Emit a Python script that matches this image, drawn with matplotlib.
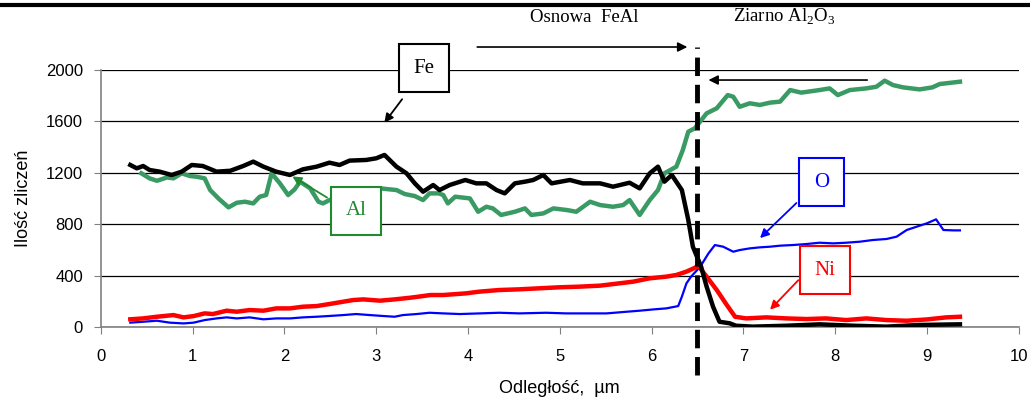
import matplotlib.pyplot as plt
from matplotlib.lines import Line2D

# Fe (black)
fe_x = [0.32, 0.39, 0.46, 0.53, 0.64, 0.77, 0.88, 0.99, 1.11, 1.26, 1.41, 1.55, 1.66, 1.77,
        1.91, 2.06, 2.20, 2.35, 2.49, 2.60, 2.71, 2.89, 3.00, 3.09, 3.22, 3.33, 3.42, 3.51,
        3.62, 3.69, 3.80, 3.97, 4.09, 4.20, 4.31, 4.40, 4.51, 4.62, 4.71, 4.82, 4.91, 5.11,
        5.25, 5.44, 5.58, 5.76, 5.87, 5.98, 6.07, 6.14, 6.22, 6.33, 6.40, 6.45, 6.54, 6.60,
        6.67, 6.74, 6.85, 6.92, 7.10, 7.47, 7.83, 8.20, 8.56, 8.92, 9.36]
fe_y = [1261, 1235, 1253, 1222, 1209, 1183, 1209, 1261, 1253, 1209, 1216, 1253, 1287, 1248,
        1209, 1183, 1227, 1248, 1279, 1261, 1295, 1300, 1313, 1339, 1248, 1196, 1118, 1053,
        1105, 1066, 1105, 1144, 1118, 1118, 1066, 1040, 1118, 1131, 1144, 1183, 1118, 1144,
        1118, 1118, 1092, 1123, 1079, 1196, 1248, 1131, 1183, 1066, 833, 625, 469, 314,
        158, 41, 29, 10, 3, 10, 21, 10, 3, 16, 21]

# Al (green)
al_x = [0.44, 0.53, 0.61, 0.72, 0.79, 0.88, 0.97, 1.04, 1.13, 1.19, 1.28, 1.39, 1.48, 1.57,
        1.66, 1.73, 1.80, 1.86, 1.95, 2.04, 2.11, 2.17, 2.28, 2.37, 2.42, 2.49, 2.70, 2.90,
        3.04, 3.15, 3.22, 3.31, 3.42, 3.51, 3.58, 3.68, 3.73, 3.78, 3.86, 4.02, 4.11, 4.20,
        4.27, 4.36, 4.51, 4.62, 4.69, 4.82, 4.93, 5.08, 5.18, 5.33, 5.44, 5.58, 5.69, 5.76,
        5.87, 5.98, 6.07, 6.14, 6.27, 6.34, 6.40, 6.47, 6.60, 6.71, 6.83, 6.89, 6.96, 7.07,
        7.18, 7.29, 7.40, 7.51, 7.63, 7.83, 7.94, 8.03, 8.16, 8.34, 8.45, 8.54, 8.63, 8.74,
        8.92, 9.06, 9.14, 9.36]
al_y = [1196, 1157, 1138, 1164, 1157, 1196, 1175, 1170, 1157, 1066, 1001, 931, 967, 975,
        962, 1014, 1027, 1196, 1118, 1027, 1071, 1131, 1079, 975, 962, 988, 1030, 1060,
        1079, 1071, 1066, 1035, 1019, 988, 1040, 1040, 1027, 962, 1014, 1001, 897, 936,
        923, 872, 897, 923, 872, 884, 923, 910, 897, 975, 949, 936, 949, 988,
        872, 988, 1066, 1196, 1248, 1377, 1520, 1546, 1663, 1702, 1805, 1792, 1714, 1741,
        1728, 1746, 1754, 1844, 1824, 1844, 1857, 1805, 1844, 1857, 1870, 1917, 1883, 1865,
        1849, 1865, 1891, 1909]

# Ni (red)
ni_x = [0.32, 0.46, 0.61, 0.79, 0.90, 1.01, 1.13, 1.22, 1.37, 1.48, 1.62, 1.77, 1.91, 2.06,
        2.20, 2.35, 2.49, 2.64, 2.75, 2.86, 3.04, 3.20, 3.37, 3.48, 3.59, 3.73, 3.98, 4.12,
        4.34, 4.55, 4.77, 4.99, 5.21, 5.44, 5.65, 5.80, 5.98, 6.16, 6.27, 6.38, 6.46, 6.51,
        6.60, 6.71, 6.82, 6.91, 7.03, 7.25, 7.47, 7.69, 7.90, 8.12, 8.34, 8.56, 8.78, 9.00,
        9.21, 9.36]
ni_y = [60, 67, 80, 93, 75, 85, 106, 101, 127, 119, 132, 127, 145, 145,
        158, 163, 179, 197, 210, 215, 205, 215, 228, 238, 249, 249, 262, 275,
        288, 293, 301, 309, 314, 322, 340, 353, 379, 392, 405, 431, 457, 475,
        392, 288, 171, 80, 67, 75, 67, 62, 67, 54, 67, 54, 49, 59,
        75, 80]

# O (blue)
o_x = [0.32, 0.46, 0.61, 0.75, 0.90, 1.01, 1.13, 1.26, 1.37, 1.48, 1.62, 1.77, 1.91, 2.06,
       2.20, 2.35, 2.49, 2.64, 2.78, 2.93, 3.07, 3.20, 3.29, 3.44, 3.58, 3.73, 3.91, 4.13,
       4.34, 4.56, 4.85, 5.07, 5.29, 5.51, 5.73, 5.87, 6.02, 6.16, 6.29, 6.33, 6.38, 6.43,
       6.53, 6.62, 6.69, 6.78, 6.89, 6.96, 7.07, 7.18, 7.29, 7.40, 7.54, 7.69, 7.83, 7.98,
       8.12, 8.27, 8.41, 8.56, 8.67, 8.78, 8.89, 9.00, 9.10, 9.18, 9.29, 9.36]
o_y = [34, 41, 49, 34, 28, 34, 54, 67, 75, 67, 75, 60, 67, 67,
       75, 80, 86, 93, 101, 93, 86, 80, 93, 101, 111, 106, 101, 106,
       111, 106, 111, 106, 106, 106, 119, 127, 137, 145, 163, 236, 340, 392,
       469, 573, 638, 625, 586, 599, 612, 620, 625, 633, 638, 646, 656, 651,
       656, 664, 677, 685, 703, 755, 781, 807, 838, 755, 752, 752]

green = '#3a9a64'
serif = 'Liberation Serif'

plt.rcParams['font.family'] = ['Liberation Sans', 'DejaVu Sans']
plt.rcParams['mathtext.fontset'] = 'custom'
plt.rcParams['mathtext.rm'] = serif

fig = plt.figure(figsize=(10.3, 4.01), dpi=100)
ax = fig.add_axes([0.098, 0.1845, 0.891, 0.6409])

ax.plot(o_x, o_y, color='#0000ff', lw=1.6, zorder=3)
ax.plot(ni_x, ni_y, color='#ff0000', lw=3.2, zorder=3)
ax.plot(al_x, al_y, color=green, lw=3.2, zorder=4)
ax.plot(fe_x, fe_y, color='black', lw=3.2, zorder=5)

ax.set_xlim(0, 10)
ax.set_ylim(0, 2000)
ax.set_xticks(range(0, 11))
ax.set_yticks(range(0, 2001, 400))
ax.grid(axis='y', color='black', lw=0.9)
ax.set_axisbelow(True)
for s in ['top', 'right']:
    ax.spines[s].set_visible(False)
for s in ['left', 'bottom']:
    ax.spines[s].set_color('#808080')
    ax.spines[s].set_linewidth(1.2)
ax.tick_params(direction='out', length=5, color='#808080', labelsize=12)
ax.tick_params(axis='x', pad=11)
ax.tick_params(axis='y', pad=8)
ax.set_xlabel('Odległość,  µm', fontsize=13, labelpad=11)
ax.set_ylabel('Ilość zliczeń', fontsize=13, labelpad=10)

# interface line
ax.plot([6.49, 6.49], [-370, 2180], color='black', lw=3.5, ls=(0, (3.8, 1.8)),
        clip_on=False, zorder=6)

# region arrows and labels
ax.annotate('', xy=(6.42, 2179), xytext=(4.07, 2179),
            arrowprops=dict(arrowstyle='-|>', color='black', lw=1.2, mutation_scale=14),
            annotation_clip=False)
ax.annotate('', xy=(6.59, 1922), xytext=(8.38, 1922),
            arrowprops=dict(arrowstyle='-|>', color='black', lw=1.2, mutation_scale=14),
            annotation_clip=False)
ax.text(5.27, 2410, 'Osnowa  FeAl', family=serif, fontsize=13.5, ha='center', va='center',
        clip_on=False)
ax.text(7.45, 2410, 'Ziarno Al$_\\mathrm{2}$O$_\\mathrm{3}$', family=serif, fontsize=13.5,
        ha='center', va='center', clip_on=False)

# element labels
labels = [('Fe', 'black', (3.52, 2015), (3.07, 1572), (3.30, 1790)),
          ('Al', '#1f8a2e', (2.78, 903), (2.06, 1183), (2.49, 996)),
          ('O', '#0000ff', (7.85, 1128), (7.16, 677), (7.60, 980)),
          ('Ni', '#ff0000', (7.89, 443), (7.27, 119), (7.62, 380))]
for name, col, pos, tip, tail in labels:
    ax.annotate('', xy=tip, xytext=tail,
                arrowprops=dict(arrowstyle='-|>', color=col, lw=1.3, mutation_scale=13),
                annotation_clip=False, zorder=7)
    ax.text(pos[0], pos[1], name, family=serif, fontsize=15, color=col, ha='center',
            va='center', zorder=8, clip_on=False,
            bbox=dict(boxstyle='square,pad=0.7', fc='white', ec=col, lw=1.5))

# page rule at top
fig.add_artist(Line2D([0, 1], [0.987, 0.987], color='black', lw=3, transform=fig.transFigure))

fig.savefig('out.png', dpi=100)
